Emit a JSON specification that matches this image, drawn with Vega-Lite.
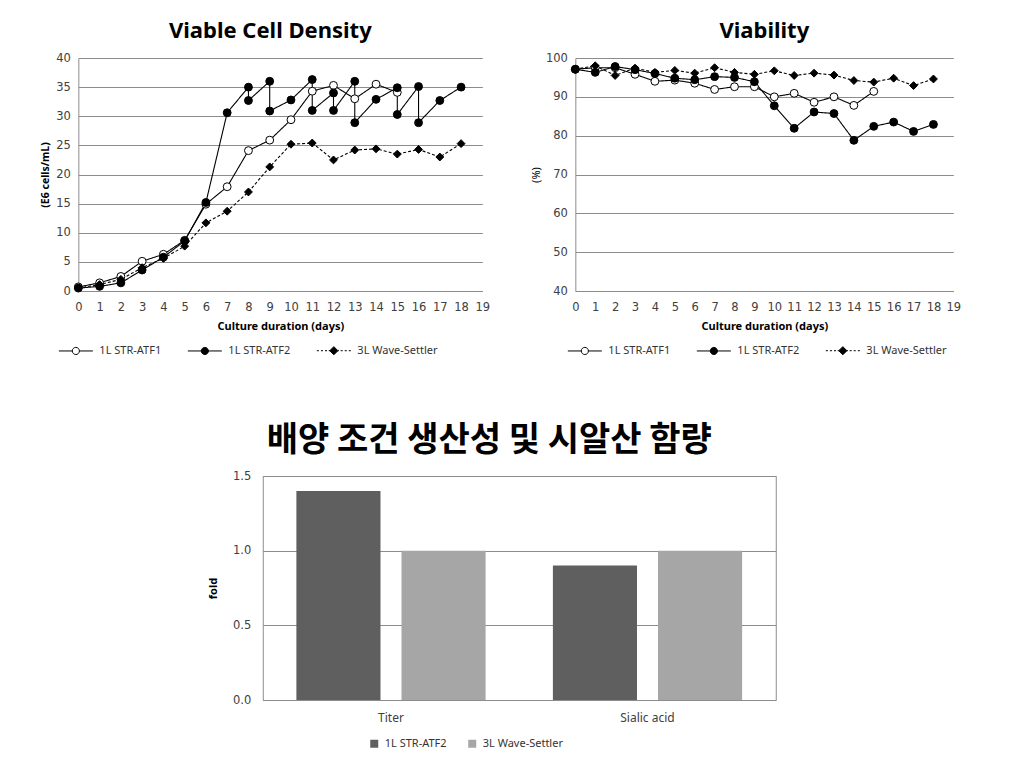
{
  "$schema": "https://vega.github.io/schema/vega-lite/v6.json",
  "background": "white",
  "padding": {"left": 40, "top": 20, "right": 10, "bottom": 5},
  "spacing": 66,
  "center": true,
  "resolve": {"scale": {"fill": "independent", "shape": "independent", "stroke": "independent", "color": "independent"}},
  "datasets": {
    "vcd": [
      {"series": "1L STR-ATF1", "ord": 0, "day": 0, "value": 0.7},
      {"series": "1L STR-ATF1", "ord": 1, "day": 1, "value": 1.4},
      {"series": "1L STR-ATF1", "ord": 2, "day": 2, "value": 2.5},
      {"series": "1L STR-ATF1", "ord": 3, "day": 3, "value": 5.1},
      {"series": "1L STR-ATF1", "ord": 4, "day": 4, "value": 6.3},
      {"series": "1L STR-ATF1", "ord": 5, "day": 5, "value": 8.7},
      {"series": "1L STR-ATF1", "ord": 6, "day": 6, "value": 14.9},
      {"series": "1L STR-ATF1", "ord": 7, "day": 7, "value": 17.9},
      {"series": "1L STR-ATF1", "ord": 8, "day": 8, "value": 24.1},
      {"series": "1L STR-ATF1", "ord": 9, "day": 9, "value": 25.9},
      {"series": "1L STR-ATF1", "ord": 10, "day": 10, "value": 29.4},
      {"series": "1L STR-ATF1", "ord": 11, "day": 11, "value": 34.3},
      {"series": "1L STR-ATF1", "ord": 12, "day": 12, "value": 35.3},
      {"series": "1L STR-ATF1", "ord": 13, "day": 13, "value": 33.0},
      {"series": "1L STR-ATF1", "ord": 14, "day": 14, "value": 35.5},
      {"series": "1L STR-ATF1", "ord": 15, "day": 15, "value": 34.1},
      {"series": "1L STR-ATF2", "ord": 0, "day": 0, "value": 0.5},
      {"series": "1L STR-ATF2", "ord": 1, "day": 1, "value": 0.8},
      {"series": "1L STR-ATF2", "ord": 2, "day": 2, "value": 1.4},
      {"series": "1L STR-ATF2", "ord": 3, "day": 3, "value": 3.6},
      {"series": "1L STR-ATF2", "ord": 4, "day": 4, "value": 5.8},
      {"series": "1L STR-ATF2", "ord": 5, "day": 5, "value": 8.6},
      {"series": "1L STR-ATF2", "ord": 6, "day": 6, "value": 15.2},
      {"series": "1L STR-ATF2", "ord": 7, "day": 7, "value": 30.6},
      {"series": "1L STR-ATF2", "ord": 8, "day": 8, "value": 35.0},
      {"series": "1L STR-ATF2", "ord": 9, "day": 8, "value": 32.7},
      {"series": "1L STR-ATF2", "ord": 10, "day": 9, "value": 36.0},
      {"series": "1L STR-ATF2", "ord": 11, "day": 9, "value": 30.9},
      {"series": "1L STR-ATF2", "ord": 12, "day": 10, "value": 32.8},
      {"series": "1L STR-ATF2", "ord": 13, "day": 11, "value": 36.3},
      {"series": "1L STR-ATF2", "ord": 14, "day": 11, "value": 31.0},
      {"series": "1L STR-ATF2", "ord": 15, "day": 12, "value": 34.0},
      {"series": "1L STR-ATF2", "ord": 16, "day": 12, "value": 31.0},
      {"series": "1L STR-ATF2", "ord": 17, "day": 13, "value": 36.0},
      {"series": "1L STR-ATF2", "ord": 18, "day": 13, "value": 28.9},
      {"series": "1L STR-ATF2", "ord": 19, "day": 14, "value": 32.9},
      {"series": "1L STR-ATF2", "ord": 20, "day": 15, "value": 34.9},
      {"series": "1L STR-ATF2", "ord": 21, "day": 15, "value": 30.3},
      {"series": "1L STR-ATF2", "ord": 22, "day": 16, "value": 35.1},
      {"series": "1L STR-ATF2", "ord": 23, "day": 16, "value": 28.9},
      {"series": "1L STR-ATF2", "ord": 24, "day": 17, "value": 32.7},
      {"series": "1L STR-ATF2", "ord": 25, "day": 18, "value": 35.0},
      {"series": "3L Wave-Settler", "ord": 0, "day": 0, "value": 0.5},
      {"series": "3L Wave-Settler", "ord": 1, "day": 1, "value": 1.1},
      {"series": "3L Wave-Settler", "ord": 2, "day": 2, "value": 2.0},
      {"series": "3L Wave-Settler", "ord": 3, "day": 3, "value": 4.0},
      {"series": "3L Wave-Settler", "ord": 4, "day": 4, "value": 5.6},
      {"series": "3L Wave-Settler", "ord": 5, "day": 5, "value": 7.7},
      {"series": "3L Wave-Settler", "ord": 6, "day": 6, "value": 11.7},
      {"series": "3L Wave-Settler", "ord": 7, "day": 7, "value": 13.7},
      {"series": "3L Wave-Settler", "ord": 8, "day": 8, "value": 17.0},
      {"series": "3L Wave-Settler", "ord": 9, "day": 9, "value": 21.3},
      {"series": "3L Wave-Settler", "ord": 10, "day": 10, "value": 25.2},
      {"series": "3L Wave-Settler", "ord": 11, "day": 11, "value": 25.4},
      {"series": "3L Wave-Settler", "ord": 12, "day": 12, "value": 22.5},
      {"series": "3L Wave-Settler", "ord": 13, "day": 13, "value": 24.2},
      {"series": "3L Wave-Settler", "ord": 14, "day": 14, "value": 24.4},
      {"series": "3L Wave-Settler", "ord": 15, "day": 15, "value": 23.5},
      {"series": "3L Wave-Settler", "ord": 16, "day": 16, "value": 24.3},
      {"series": "3L Wave-Settler", "ord": 17, "day": 17, "value": 23.0},
      {"series": "3L Wave-Settler", "ord": 18, "day": 18, "value": 25.3}
    ],
    "via": [
      {"series": "1L STR-ATF1", "day": 0, "value": 97.1},
      {"series": "1L STR-ATF1", "day": 1, "value": 97.5},
      {"series": "1L STR-ATF1", "day": 2, "value": 97.5},
      {"series": "1L STR-ATF1", "day": 3, "value": 95.8},
      {"series": "1L STR-ATF1", "day": 4, "value": 94.0},
      {"series": "1L STR-ATF1", "day": 5, "value": 94.3},
      {"series": "1L STR-ATF1", "day": 6, "value": 93.5},
      {"series": "1L STR-ATF1", "day": 7, "value": 91.9},
      {"series": "1L STR-ATF1", "day": 8, "value": 92.6},
      {"series": "1L STR-ATF1", "day": 9, "value": 92.6},
      {"series": "1L STR-ATF1", "day": 10, "value": 90.0},
      {"series": "1L STR-ATF1", "day": 11, "value": 90.9},
      {"series": "1L STR-ATF1", "day": 12, "value": 88.6},
      {"series": "1L STR-ATF1", "day": 13, "value": 90.0},
      {"series": "1L STR-ATF1", "day": 14, "value": 87.8},
      {"series": "1L STR-ATF1", "day": 15, "value": 91.4},
      {"series": "1L STR-ATF2", "day": 0, "value": 97.1},
      {"series": "1L STR-ATF2", "day": 1, "value": 96.3},
      {"series": "1L STR-ATF2", "day": 2, "value": 97.8},
      {"series": "1L STR-ATF2", "day": 3, "value": 97.0},
      {"series": "1L STR-ATF2", "day": 4, "value": 96.0},
      {"series": "1L STR-ATF2", "day": 5, "value": 94.8},
      {"series": "1L STR-ATF2", "day": 6, "value": 94.4},
      {"series": "1L STR-ATF2", "day": 7, "value": 95.2},
      {"series": "1L STR-ATF2", "day": 8, "value": 95.0},
      {"series": "1L STR-ATF2", "day": 9, "value": 93.9},
      {"series": "1L STR-ATF2", "day": 10, "value": 87.7},
      {"series": "1L STR-ATF2", "day": 11, "value": 81.9},
      {"series": "1L STR-ATF2", "day": 12, "value": 86.1},
      {"series": "1L STR-ATF2", "day": 13, "value": 85.7},
      {"series": "1L STR-ATF2", "day": 14, "value": 78.8},
      {"series": "1L STR-ATF2", "day": 15, "value": 82.4},
      {"series": "1L STR-ATF2", "day": 16, "value": 83.5},
      {"series": "1L STR-ATF2", "day": 17, "value": 81.1},
      {"series": "1L STR-ATF2", "day": 18, "value": 82.9},
      {"series": "3L Wave-Settler", "day": 0, "value": 97.1},
      {"series": "3L Wave-Settler", "day": 1, "value": 98.0},
      {"series": "3L Wave-Settler", "day": 2, "value": 95.5},
      {"series": "3L Wave-Settler", "day": 3, "value": 97.4},
      {"series": "3L Wave-Settler", "day": 4, "value": 96.3},
      {"series": "3L Wave-Settler", "day": 5, "value": 96.8},
      {"series": "3L Wave-Settler", "day": 6, "value": 96.1},
      {"series": "3L Wave-Settler", "day": 7, "value": 97.5},
      {"series": "3L Wave-Settler", "day": 8, "value": 96.3},
      {"series": "3L Wave-Settler", "day": 9, "value": 95.8},
      {"series": "3L Wave-Settler", "day": 10, "value": 96.7},
      {"series": "3L Wave-Settler", "day": 11, "value": 95.5},
      {"series": "3L Wave-Settler", "day": 12, "value": 96.1},
      {"series": "3L Wave-Settler", "day": 13, "value": 95.6},
      {"series": "3L Wave-Settler", "day": 14, "value": 94.2},
      {"series": "3L Wave-Settler", "day": 15, "value": 93.8},
      {"series": "3L Wave-Settler", "day": 16, "value": 94.8},
      {"series": "3L Wave-Settler", "day": 17, "value": 92.9},
      {"series": "3L Wave-Settler", "day": 18, "value": 94.6}
    ],
    "bar": [
      {"metric": "Titer", "series": "1L STR-ATF2", "fold": 1.4},
      {"metric": "Titer", "series": "3L Wave-Settler", "fold": 1.0},
      {"metric": "Sialic acid", "series": "1L STR-ATF2", "fold": 0.9},
      {"metric": "Sialic acid", "series": "3L Wave-Settler", "fold": 1.0}
    ]
  },
  "config": {
    "font": "Noto Sans",
    "view": {"stroke": null},
    "axis": {
      "labelFont": "DejaVu Sans",
      "labelFontSize": 11.5,
      "labelColor": "#404040",
      "labelOverlap": false,
      "labelFlush": false,
      "titleFont": "Noto Sans",
      "titleColor": "#000000",
      "titleFontSize": 11,
      "titleFontWeight": "bold",
      "gridColor": "#8c8c8c",
      "gridOpacity": 1,
      "domainColor": "#8c8c8c",
      "ticks": false
    },
    "legend": {
      "labelFont": "Noto Sans",
      "labelFontSize": 11,
      "labelColor": "#333333"
    },
    "title": {"font": "Noto Sans", "color": "#000000", "fontWeight": "bold"}
  },
  "vconcat": [
    {
      "spacing": 40,
      "resolve": {"scale": {"fill": "independent", "shape": "independent", "stroke": "independent", "color": "independent"}},
      "hconcat": [
        {
          "width": 404,
          "height": 233,
          "title": {"text": "Viable Cell Density", "fontSize": 22, "frame": "group", "dx": -10, "offset": 9},
          "data": {"name": "vcd"},
          "encoding": {
            "x": {"field": "day", "type": "quantitative", "scale": {"domain": [0, 19], "nice": false},
              "axis": {"values": [0,1,2,3,4,5,6,7,8,9,10,11,12,13,14,15,16,17,18,19], "grid": false, "title": "Culture duration (days)", "labelPadding": 10, "titlePadding": 8}},
            "y": {"field": "value", "type": "quantitative", "scale": {"domain": [0, 40], "nice": false},
              "axis": {"values": [0,5,10,15,20,25,30,35,40], "title": "(E6 cells/mL)", "titleFontSize": 10.5, "labelPadding": 8, "titlePadding": 5}}
          },
          "layer": [
            {
              "mark": {"type": "line", "color": "#000000", "strokeWidth": 1.1},
              "encoding": {
                "detail": {"field": "series"},
                "order": {"field": "ord"},
                "strokeDash": {"condition": {"test": "datum.series === '3L Wave-Settler'", "value": [3, 2]}, "value": [1, 0]}
              }
            },
            {
              "mark": {"type": "point", "stroke": "#000000", "strokeWidth": 1, "size": 62, "opacity": 1},
              "encoding": {
                "shape": {"condition": {"test": "datum.series === '3L Wave-Settler'", "value": "diamond"}, "value": "circle"},
                "fill": {"condition": {"test": "datum.series === '1L STR-ATF1'", "value": "#ffffff"}, "value": "#000000"}
              }
            },
            {
              "mark": {"type": "point", "strokeWidth": 1, "size": 20, "opacity": 0},
              "encoding": {
                "shape": {"field": "series", "type": "nominal",
                  "scale": {"domain": ["1L STR-ATF1", "1L STR-ATF2", "3L Wave-Settler"],
                    "range": ["M-1 0H-0.21M0.21 0H1M-0.21 0A0.21 0.21 0 1 0 0.21 0A0.21 0.21 0 1 0 -0.21 0Z", "M-1 0H1M-0.21 0A0.21 0.21 0 1 0 0.21 0A0.21 0.21 0 1 0 -0.21 0Z", "M-1 0H-0.88M-0.76 0H-0.64M-0.52 0H-0.4M-0.3 0H-0.22M0.22 0H0.3M0.4 0H0.52M0.64 0H0.76M0.88 0H1M0 -0.24L0.24 0L0 0.24L-0.24 0Z"]},
                  "legend": {"orient": "none", "legendX": -20, "legendY": 275, "direction": "horizontal", "title": null, "symbolSize": 1156, "symbolOpacity": 1, "symbolStrokeWidth": 1, "columnPadding": 24, "labelOffset": 6}},
                "fill": {"field": "series", "type": "nominal", "scale": {"domain": ["1L STR-ATF1", "1L STR-ATF2", "3L Wave-Settler"], "range": ["#ffffff", "#000000", "#000000"]}},
                "stroke": {"field": "series", "type": "nominal", "scale": {"domain": ["1L STR-ATF1", "1L STR-ATF2", "3L Wave-Settler"], "range": ["#000000", "#000000", "#000000"]}}
              }
            }
          ]
        },
        {
          "width": 378,
          "height": 233,
          "title": {"text": "Viability", "fontSize": 22, "frame": "group", "offset": 9},
          "data": {"name": "via"},
          "encoding": {
            "x": {"field": "day", "type": "quantitative", "scale": {"domain": [0, 19], "nice": false},
              "axis": {"values": [0,1,2,3,4,5,6,7,8,9,10,11,12,13,14,15,16,17,18,19], "grid": false, "title": "Culture duration (days)", "labelPadding": 10, "titlePadding": 8}},
            "y": {"field": "value", "type": "quantitative", "scale": {"domain": [40, 100], "nice": false},
              "axis": {"values": [40,50,60,70,80,90,100], "title": "(%)", "titleFontWeight": "normal", "labelPadding": 8, "titlePadding": 4}}
          },
          "layer": [
            {
              "mark": {"type": "line", "color": "#000000", "strokeWidth": 1.1},
              "encoding": {
                "detail": {"field": "series"},
                "strokeDash": {"condition": {"test": "datum.series === '3L Wave-Settler'", "value": [3, 2]}, "value": [1, 0]}
              }
            },
            {
              "mark": {"type": "point", "stroke": "#000000", "strokeWidth": 1, "size": 62, "opacity": 1},
              "encoding": {
                "shape": {"condition": {"test": "datum.series === '3L Wave-Settler'", "value": "diamond"}, "value": "circle"},
                "fill": {"condition": {"test": "datum.series === '1L STR-ATF1'", "value": "#ffffff"}, "value": "#000000"}
              }
            },
            {
              "mark": {"type": "point", "strokeWidth": 1, "size": 20, "opacity": 0},
              "encoding": {
                "shape": {"field": "series", "type": "nominal",
                  "scale": {"domain": ["1L STR-ATF1", "1L STR-ATF2", "3L Wave-Settler"],
                    "range": ["M-1 0H-0.21M0.21 0H1M-0.21 0A0.21 0.21 0 1 0 0.21 0A0.21 0.21 0 1 0 -0.21 0Z", "M-1 0H1M-0.21 0A0.21 0.21 0 1 0 0.21 0A0.21 0.21 0 1 0 -0.21 0Z", "M-1 0H-0.88M-0.76 0H-0.64M-0.52 0H-0.4M-0.3 0H-0.22M0.22 0H0.3M0.4 0H0.52M0.64 0H0.76M0.88 0H1M0 -0.24L0.24 0L0 0.24L-0.24 0Z"]},
                  "legend": {"orient": "none", "legendX": -8, "legendY": 275, "direction": "horizontal", "title": null, "symbolSize": 1156, "symbolOpacity": 1, "symbolStrokeWidth": 1, "columnPadding": 24, "labelOffset": 6}},
                "fill": {"field": "series", "type": "nominal", "scale": {"domain": ["1L STR-ATF1", "1L STR-ATF2", "3L Wave-Settler"], "range": ["#ffffff", "#000000", "#000000"]}},
                "stroke": {"field": "series", "type": "nominal", "scale": {"domain": ["1L STR-ATF1", "1L STR-ATF2", "3L Wave-Settler"], "range": ["#000000", "#000000", "#000000"]}}
              }
            }
          ]
        }
      ]
    },
    {
      "width": 513,
      "height": 224,
      "view": {"stroke": "#8c8c8c"},
      "title": {"text": "배양 조건 생산성 및 시알산 함량", "font": "Noto Sans CJK KR", "fontSize": 34, "frame": "group", "dx": -30, "offset": 12},
      "data": {"name": "bar"},
      "mark": {"type": "bar"},
      "encoding": {
        "x": {"field": "metric", "type": "nominal", "sort": ["Titer", "Sialic acid"], "scale": {"paddingInner": 0, "paddingOuter": 0},
          "axis": {"title": null, "labelAngle": 0, "domain": false, "labelPadding": 12, "labelFont": "Noto Sans", "labelFontSize": 12}},
        "xOffset": {"field": "series", "type": "nominal", "sort": ["1L STR-ATF2", "3L Wave-Settler"], "scale": {"paddingInner": 0.2, "paddingOuter": 0.32}},
        "y": {"field": "fold", "type": "quantitative", "scale": {"domain": [0, 1.5], "nice": false},
          "axis": {"values": [0, 0.5, 1, 1.5], "format": ".1f", "title": "fold", "domain": false, "labelPadding": 12, "titlePadding": 14}},
        "color": {"field": "series", "type": "nominal", "scale": {"domain": ["1L STR-ATF2", "3L Wave-Settler"], "range": ["#5f5f5f", "#a6a6a6"]},
          "legend": {"orient": "none", "legendX": 106, "legendY": 262, "direction": "horizontal", "title": null, "symbolType": "square", "symbolSize": 64, "columnPadding": 20, "labelOffset": 5}}
      }
    }
  ]
}
